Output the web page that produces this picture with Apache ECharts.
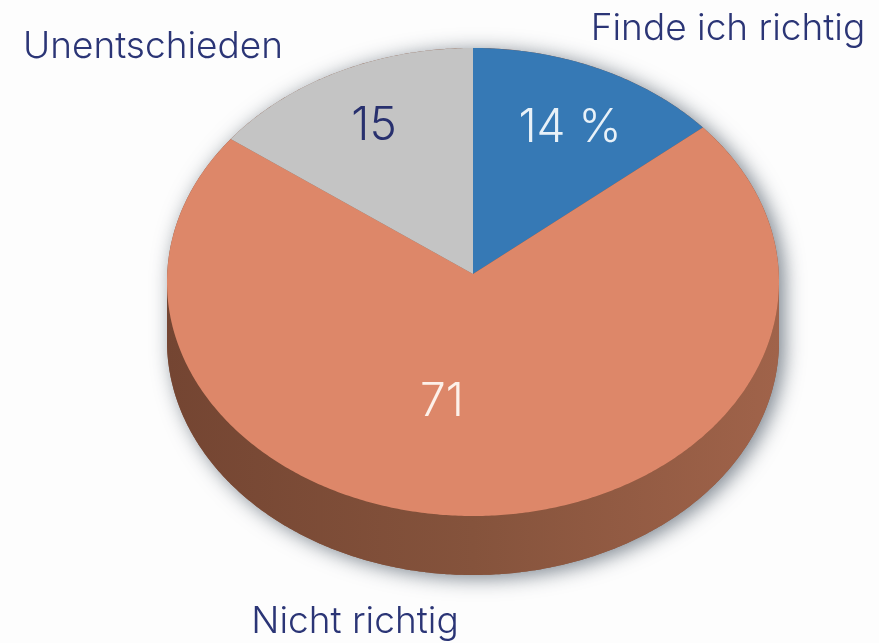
<!DOCTYPE html>
<html><head><meta charset="utf-8">
<style>html,body{margin:0;padding:0;background:#fdfdfd}#c{width:879px;height:643px}</style>
<script src="https://cdn.jsdelivr.net/npm/echarts@6/dist/echarts.min.js"></script>
</head><body><div id="c"></div>
<script>
const categories = ['Finde ich richtig', 'Nicht richtig', 'Unentschieden'];
const seriesValues = [14, 71, 15];
const valueLabels = ['14 %', '71', '15'];
const sliceColors = ['#3679b5', '#dd8769', '#c4c4c4'];
const valueColors = ['#e8f1f8', '#fdf1ea', '#28306e'];

const geo = { cx: 473, cy: 282, rx: 306, ry: 234, apexDy: -8, depth: 59, warp: 0.03 };
const valuePos = [[570, 128], [442, 402], [374, 126]];
const namePos = [[728, 29], [355, 622], [153, 47]];
const FONT = 'Inter';
const total = seriesValues.reduce((a, b) => a + b, 0);
const rim = (t, dy) => [geo.cx + geo.rx * Math.sin(t), geo.cy - geo.ry * Math.cos(t) + (dy || 0)];
const perspective = t => t - geo.warp * Math.sin(2 * t);
function arc(a, b, dy) {
  const n = Math.max(2, Math.ceil((b - a) / 0.01)), out = [];
  for (let i = 0; i <= n; i++) out.push(rim(a + (b - a) * i / n, dy));
  return out;
}
const TAU = Math.PI * 2;

function renderSlice(params, api) {
  const i = params.dataIndex, v = api.value(0);
  let before = 0;
  for (let k = 0; k < i; k++) before += seriesValues[k];
  const a = perspective(before / total * TAU), b = perspective((before + v) / total * TAU);
  const kids = [];
  const fa = Math.max(a, Math.PI / 2), fb = Math.min(b, Math.PI * 1.5);
  if (fb > fa) {
    kids.push({
      type: 'polygon',
      shape: { points: arc(fa, fb, 0).concat(arc(fa, fb, geo.depth).reverse()) },
      style: { fill: new echarts.graphic.LinearGradient(0, 0, 1, 0, [
        { offset: 0, color: '#744532' }, { offset: 0.5, color: '#85533c' }, { offset: 1, color: '#a0634a' }
      ]) }
    });
  }
  kids.push({
    type: 'polygon',
    shape: { points: [[geo.cx, geo.cy + geo.apexDy]].concat(arc(a, b, 0)) },
    style: { fill: sliceColors[i] }
  });
  kids.push({
    type: 'text', z2: 10,
    style: { x: valuePos[i][0], y: valuePos[i][1], text: valueLabels[i], fill: valueColors[i], fontFamily: FONT, fontWeight: 300, fontSize: 46, align: 'center', verticalAlign: 'middle' }
  });
  kids.push({
    type: 'text', z2: 10,
    style: { x: namePos[i][0], y: namePos[i][1], text: categories[i], fill: '#2b3576', fontFamily: FONT, fontWeight: 300, fontSize: 37, align: 'center', verticalAlign: 'middle' }
  });
  return { type: 'group', children: kids };
}
function renderShadow() {
  return {
    type: 'polygon',
    shape: { points: arc(-Math.PI / 2, Math.PI / 2, 0).concat(arc(Math.PI / 2, Math.PI * 1.5, geo.depth)) },
    style: { fill: '#85533c', shadowBlur: 20, shadowOffsetX: 5, shadowOffsetY: 3, shadowColor: 'rgba(50,65,80,0.65)' }
  };
}
const chart = echarts.init(document.getElementById('c'), null, { renderer: 'canvas' });
chart.setOption({
  animation: false,
  backgroundColor: '#fdfdfd',
  series: [
    { type: 'custom', silent: true, z: 1, coordinateSystem: 'none', renderItem: renderShadow, data: [0] },
    { type: 'custom', silent: true, z: 2, coordinateSystem: 'none', renderItem: renderSlice,
      data: seriesValues.map((v, i) => ({ name: categories[i], value: [v] })) }
  ]
});
</script></body></html>
